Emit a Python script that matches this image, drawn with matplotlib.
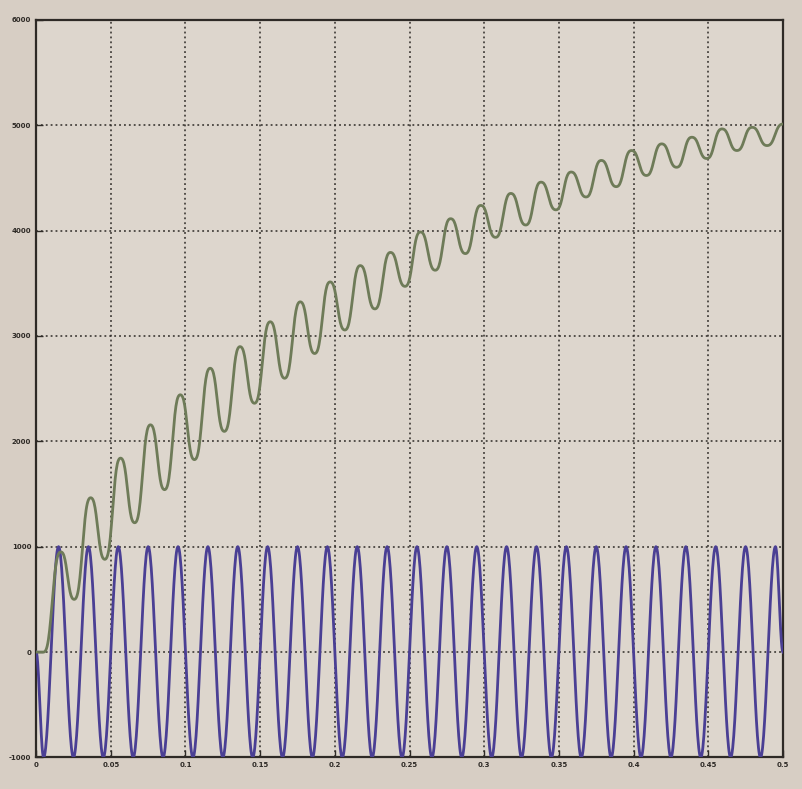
import numpy as np
import matplotlib
matplotlib.use("Agg")
import matplotlib.pyplot as plt

# Reference sine (extrema as read)
blue_t = [0, 0.005, 0.015, 0.025, 0.035, 0.045, 0.055, 0.065, 0.075, 0.085, 0.095,
          0.105, 0.115, 0.125, 0.135, 0.145, 0.155, 0.165, 0.175, 0.185, 0.195,
          0.205, 0.215, 0.225, 0.235, 0.245, 0.255, 0.265, 0.275, 0.285, 0.295,
          0.305, 0.315, 0.325, 0.335, 0.345, 0.355, 0.365, 0.375, 0.385, 0.395,
          0.405, 0.415, 0.425, 0.435, 0.445, 0.455, 0.465, 0.475, 0.485, 0.495, 0.5]
blue_v = [0, -1000, 1000, -1000, 1000, -1000, 1000, -1000, 1000, -1000, 1000,
          -1000, 1000, -1000, 1000, -1000, 1000, -1000, 1000, -1000, 1000,
          -1000, 1000, -1000, 1000, -1000, 1000, -1000, 1000, -1000, 1000,
          -1000, 1000, -1000, 1000, -1000, 1000, -1000, 1000, -1000, 1000,
          -1000, 1000, -1000, 1000, -1000, 1000, -1000, 1000, -1000, 1000, 0]

# Rising response (peaks and troughs as read)
green_t = [0, 0.005,
           0.0165, 0.0255, 0.0365, 0.0460, 0.0565, 0.0660, 0.0765, 0.0860,
           0.0965, 0.1060, 0.1165, 0.1260, 0.1365, 0.1462, 0.1567, 0.1664,
           0.1768, 0.1865, 0.1968, 0.2067, 0.2170, 0.2268, 0.2372, 0.2470,
           0.2573, 0.2672, 0.2775, 0.2874, 0.2977, 0.3076, 0.3178, 0.3278,
           0.3380, 0.3480, 0.3582, 0.3682, 0.3784, 0.3884, 0.3986, 0.4086,
           0.4188, 0.4288, 0.4390, 0.4490, 0.4592, 0.4692, 0.4794, 0.4894, 0.5]
green_v = [0, 0,
           950, 500, 1464, 880, 1840, 1227, 2156, 1541,
           2441, 1826, 2693, 2094, 2898, 2361, 3134, 2598,
           3323, 2833, 3512, 3056, 3667, 3256, 3792, 3470,
           3986, 3623, 4112, 3781, 4238, 3935, 4352, 4052,
           4459, 4196, 4555, 4318, 4665, 4416, 4759, 4522,
           4822, 4600, 4885, 4683, 4964, 4759, 4979, 4806, 5010]

x_ticks = [0, 0.05, 0.1, 0.15, 0.2, 0.25, 0.3, 0.35, 0.4, 0.45, 0.5]
x_labels = ["0", "0.05", "0.1", "0.15", "0.2", "0.25", "0.3", "0.35", "0.4", "0.45", "0.5"]
y_ticks = [-1000, 0, 1000, 2000, 3000, 4000, 5000, 6000]
y_labels = ["-1000", "0", "1000", "2000", "3000", "4000", "5000", "6000"]


def smooth_path(ts, vs, n=30, square=0.0):
    """Join consecutive extrema with half-cosine segments."""
    out_t, out_v = [ts[0]], [vs[0]]
    u = np.linspace(0, 1, n)[1:]
    s = 0.5 - 0.5 * np.cos(np.pi * u)
    s = s + square * (s * s * (3 - 2 * s) - s)
    for i in range(len(ts) - 1):
        out_t.extend(ts[i] + (ts[i + 1] - ts[i]) * u)
        out_v.extend(vs[i] + (vs[i + 1] - vs[i]) * s)
    return np.array(out_t), np.array(out_v)


paper = "#d7cec4"
fig = plt.figure(figsize=(8.03, 7.89), dpi=100, facecolor=paper)
ax = fig.add_axes([0.045, 0.040, 0.930, 0.935], facecolor="#ddd6cd")

bt, bv = smooth_path(blue_t, blue_v)
gt, gv = smooth_path(green_t, green_v, square=0.6)

ax.plot(bt, bv, color="#4a3f94", lw=2.0, zorder=3)
ax.plot(gt, gv, color="#6e7b58", lw=2.0, zorder=3)

ax.set_xlim(0, 0.5)
ax.set_ylim(-1000, 6000)
ax.set_xticks(x_ticks)
ax.set_xticklabels(x_labels)
ax.set_yticks(y_ticks)
ax.set_yticklabels(y_labels)

ax.grid(True, color="#2e2a26", linestyle=(0, (1.2, 2.0)), linewidth=1.1, zorder=1)
ax.tick_params(direction="in", length=5, width=1.0, colors="#2e2a26",
               labelsize=5, labelcolor="#2e2a26", top=False, right=False)
for lbl in ax.get_xticklabels() + ax.get_yticklabels():
    lbl.set_fontweight("bold")
for side in ["left", "bottom", "right", "top"]:
    ax.spines[side].set_color("#2e2a26")
    ax.spines[side].set_linewidth(1.6)

fig.savefig("out.png", dpi=100, facecolor=paper)
